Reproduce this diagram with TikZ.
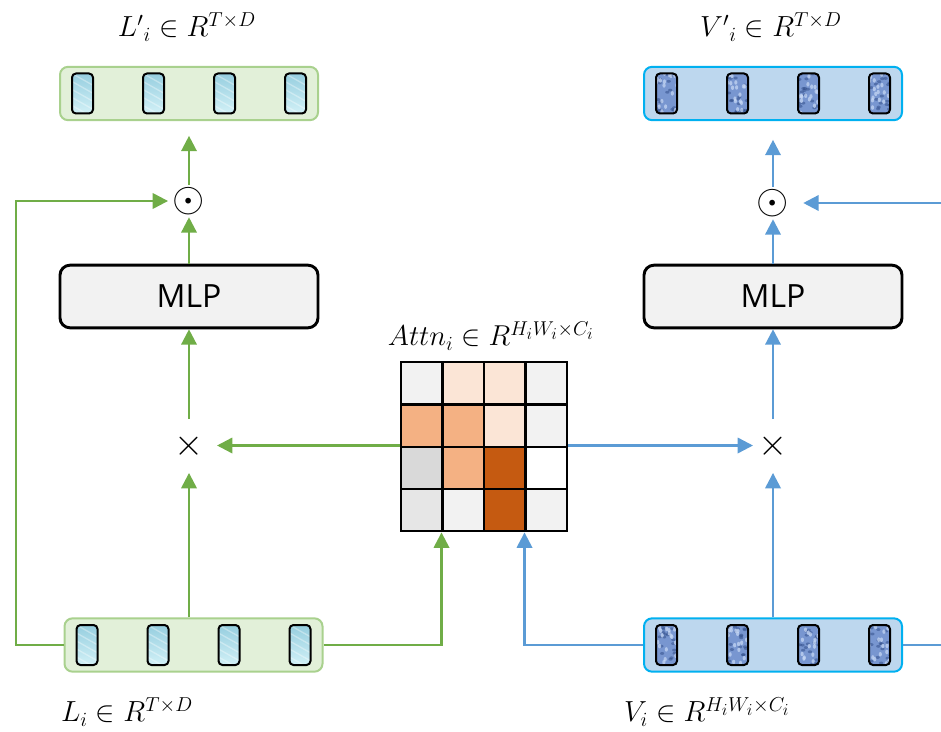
\documentclass[tikz,border=0pt]{standalone}
\usepackage{fontspec}
\newfontfamily\mlpfont{Open Sans}
\usetikzlibrary{arrows.meta,calc}
\definecolor{lgreen}{HTML}{E2F0D9}
\definecolor{bgreen}{HTML}{A9D18E}
\definecolor{lblue}{HTML}{BDD7EE}
\definecolor{bcyan}{HTML}{00B0F0}
\definecolor{agreen}{HTML}{70AD47}
\definecolor{ablue}{HTML}{5B9BD5}
\definecolor{mlpgray}{HTML}{F2F2F2}
\definecolor{tokA}{HTML}{96CEDF}
\definecolor{tokB}{HTML}{D2F1F7}
\definecolor{vbase}{HTML}{7896D0}
\definecolor{vdark}{HTML}{2E4A86}
\definecolor{vlight}{HTML}{C9DAF6}
\definecolor{cg}{HTML}{F2F2F2}
\definecolor{cp}{HTML}{FBE5D6}
\definecolor{co}{HTML}{F4B183}
\definecolor{cd}{HTML}{C55A11}
\definecolor{cm}{HTML}{D9D9D9}
\definecolor{ce}{HTML}{E6E6E6}
\tikzset{
  bar/.style={rounded corners=6pt, line width=1.5pt, minimum width=193.5pt, minimum height=40pt, inner sep=0pt},
  lbar/.style={bar, draw=bgreen, fill=lgreen},
  vbar/.style={bar, draw=bcyan, fill=lblue},
  tok/.style={rounded corners=3pt, draw=black, line width=1.5pt, minimum width=15.75pt, minimum height=30pt, inner sep=0pt},
  ltok/.style={tok, top color=tokA, bottom color=tokB, path picture={
      \foreach \k in {0,...,5}{
        \draw[white,opacity=0.35,line width=1pt] ($(path picture bounding box.north west)+(0,-\k*6pt)$) -- ++(16pt,-9pt);}
  }},
  vtok/.style={tok, fill=vbase, path picture={
      \foreach \k in {1,...,18}{
        \fill[vdark,opacity=0.5] ($(path picture bounding box.south west)+(rnd*16pt,rnd*30pt)$) ellipse (1.6pt and 1.1pt);}
      \foreach \k in {1,...,16}{
        \fill[vlight,opacity=0.7] ($(path picture bounding box.south west)+(rnd*16pt,rnd*30pt)$) ellipse (1.2pt and 1.7pt);}
  }},
  mlp/.style={draw=black, line width=2.2pt, fill=mlpgray, rounded corners=7.5pt, minimum width=193.5pt, minimum height=47pt, inner sep=0pt, font=\mlpfont\fontsize{24}{28}\selectfont},
  lab/.style={inner sep=0pt, font=\fontsize{20.74}{25}\selectfont},
  opl/.style={inner sep=0pt, font=\fontsize{24.88}{30}\selectfont},
  op/.style={circle, inner sep=0pt, minimum size=24pt},
  mul/.style={circle, inner sep=0pt, minimum size=40pt, font=\fontsize{20.74}{25}\selectfont},
  cell/.style={draw=black, line width=1.8pt, minimum width=31.1pt, minimum height=31.7pt, inner sep=0pt, anchor=north west},
  gline/.style={draw=agreen, line width=1.8pt},
  bline/.style={draw=ablue, line width=1.8pt},
  garrow/.style={gline, -{Triangle[width=11.5pt,length=11.5pt]}},
  barrow/.style={bline, -{Triangle[width=11.5pt,length=11.5pt]}},
}
\begin{document}
\begin{tikzpicture}[x=0.75pt,y=-0.75pt]
\pgfmathsetseed{17}
\useasboundingbox (0,0) rectangle (941,731);
% bars
\node[lbar] (Ltop) at (189,93.5) {};
\node[vbar] (Vtop) at (773,93.5) {};
\node[lbar] (Lbot) at (193.5,645) {};
\node[vbar] (Vbot) at (773,645) {};
% tokens
\foreach \i/\dx in {1/-106.5,2/-35.5,3/35.5,4/106.5}{
  \node[ltok] (Lt\i) at ($(Ltop)+(\dx,0)$) {};
  \node[vtok] (Vt\i) at ($(Vtop)+(\dx,0)$) {};
  \node[ltok] (Lb\i) at ($(Lbot)+(\dx,0)$) {};
  \node[vtok] (Vb\i) at ($(Vbot)+(\dx,0)$) {};
}
% MLP
\node[mlp] (MLPL) at (189,296.5) {MLP};
\node[mlp] (MLPR) at (773,296.5) {MLP};
% operators
\node[op, label={[opl]center:\scalebox{1.25}{$\odot$}}] (odotL) at (189,201) {};
\node[op, label={[opl]center:\scalebox{1.25}{$\odot$}}] (odotR) at (773,203) {};
\node[mul] (timesL) at (189,446) {\scalebox{1.35}{$\times$}};
\node[mul] (timesR) at (773,446) {\scalebox{1.35}{$\times$}};
% attention grid
\node[cell,fill=cg] (c11) at (400,361) {};
\node[cell,fill=cp] (c12) at (441.5,361) {};
\node[cell,fill=cp] (c13) at (483,361) {};
\node[cell,fill=cg] (c14) at (524.5,361) {};
\node[cell,fill=co] (c21) at (400,403.25) {};
\node[cell,fill=co] (c22) at (441.5,403.25) {};
\node[cell,fill=cp] (c23) at (483,403.25) {};
\node[cell,fill=cg] (c24) at (524.5,403.25) {};
\node[cell,fill=cm] (c31) at (400,445.5) {};
\node[cell,fill=co] (c32) at (441.5,445.5) {};
\node[cell,fill=cd] (c33) at (483,445.5) {};
\node[cell,fill=white] (c34) at (524.5,445.5) {};
\node[cell,fill=ce] (c41) at (400,487.75) {};
\node[cell,fill=cg] (c42) at (441.5,487.75) {};
\node[cell,fill=cd] (c43) at (483,487.75) {};
\node[cell,fill=cg] (c44) at (524.5,487.75) {};
% labels
\node[lab] (LpLab) at (187,27) {\scalebox{1.05}{$L'{}_{i} \in R^{T\times D}$}};
\node[lab] (VpLab) at (771,27) {\scalebox{1.05}{$V'{}_{i} \in R^{T\times D}$}};
\node[lab] (AttnLab) at (491,336) {\scalebox{1.04}{$Attn_{i} \in R^{H_{i}W_{i}\times C_{i}}$}};
\node[lab] (LLab) at (127,712) {\scalebox{1.05}{$L_{i} \in R^{T\times D}$}};
\node[lab] (VLab) at (707,712) {\scalebox{1.05}{$V_{i} \in R^{H_{i}W_{i}\times C_{i}}$}};
\coordinate (skipL) at (16,645);
\coordinate (redge) at (941,203);
% green connectors
\draw[garrow] (Lbot.north -| timesL) -- (timesL);
\draw[garrow] (timesL) -- (MLPL.south);
\draw[garrow] (MLPL.north) -- (odotL);
\draw[garrow, shorten >=11pt] (odotL) -- (Ltop.south);
\draw[garrow, shorten >=3.5pt] (Lbot.west) -- (skipL) |- (odotL);
\draw[garrow] (Lbot.east) -| (c42.south west);
\draw[garrow, shorten >=21pt] (c31.north west) -- (c31.north west -| timesL);
% blue connectors
\draw[barrow] (Vbot.north -| timesR) -- (timesR);
\draw[barrow] (timesR) -- (MLPR.south);
\draw[barrow] (MLPR.north) -- (odotR);
\draw[barrow, shorten >=14pt] (odotR) -- (Vtop.south);
\draw[barrow, shorten >=10.5pt] (redge) -- (odotR);
\draw[bline] (Vbot.east) -- (Vbot.east -| redge);
\draw[barrow] (Vbot.west) -| (c44.south west);
\draw[barrow, shorten >=15pt] (c34.north east) -- (c34.north east -| timesR);
\end{tikzpicture}
\end{document}
